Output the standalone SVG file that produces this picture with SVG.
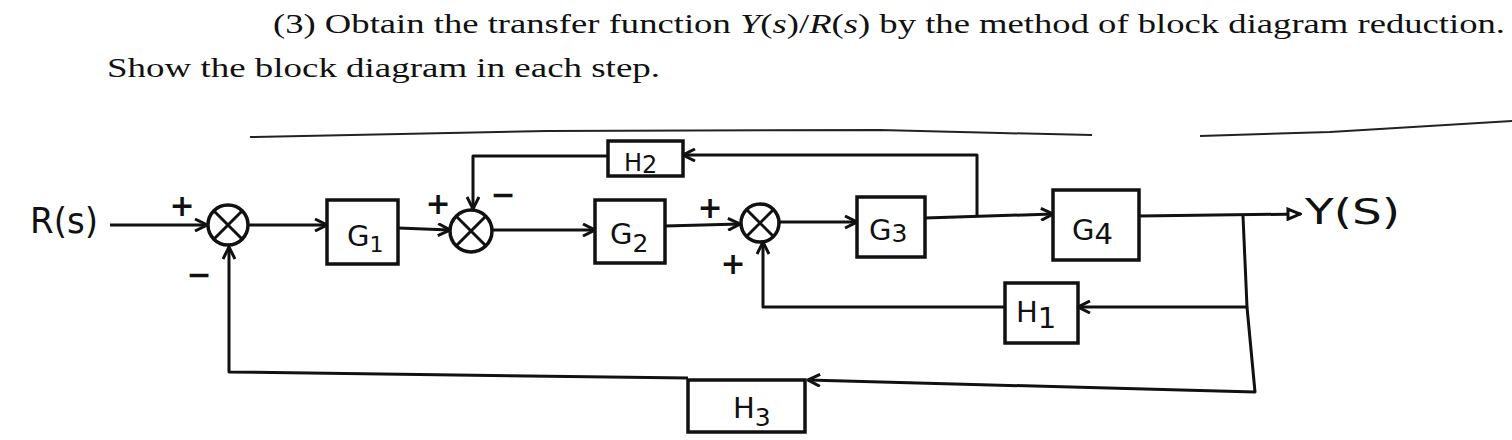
<svg xmlns="http://www.w3.org/2000/svg" width="1512" height="440" viewBox="0 0 1512 440">
<style>
.ttl{font-family:"Liberation Serif",serif;font-size:27px;fill:#111}
.hw{font-family:"DejaVu Sans","Liberation Sans",sans-serif;fill:#111}
.lbl{font-size:29px}
.sig{font-size:36px}
.pm{font-family:"DejaVu Sans",sans-serif;font-size:30px;font-weight:bold;fill:#111}
.blk{fill:#fff;stroke:#111;stroke-width:3.5}
.sum{fill:#fff;stroke:#111;stroke-width:3.5}
.x{stroke:#111;stroke-width:3}
.ln{fill:none;stroke:#111;stroke-width:3;stroke-linejoin:round}
.rule{fill:none;stroke:#222;stroke-width:2}
</style>
<defs>
<marker id="arr" viewBox="0 0 14 14" refX="13" refY="7" markerWidth="14" markerHeight="14" markerUnits="userSpaceOnUse" orient="auto">
<path d="M1,1 L13,7 L1,13" fill="none" stroke="#111" stroke-width="3"/>
</marker>
<marker id="tri" viewBox="0 0 16 14" refX="15" refY="7" markerWidth="16" markerHeight="14" markerUnits="userSpaceOnUse" orient="auto">
<path d="M2,2 L14,7 L2,12 Z" fill="#fff" stroke="#111" stroke-width="3"/>
</marker>
</defs>

<g id="title">
<text class="ttl" x="273" y="33" textLength="1232" lengthAdjust="spacingAndGlyphs">(3) Obtain the transfer function <tspan font-style="italic">Y</tspan>(<tspan font-style="italic">s</tspan>)/<tspan font-style="italic">R</tspan>(<tspan font-style="italic">s</tspan>) by the method of block diagram reduction.</text>
<text class="ttl" x="107" y="77" textLength="553" lengthAdjust="spacingAndGlyphs">Show the block diagram in each step.</text>
</g>

<g id="rules">
<polyline class="rule" points="250,137 547,131 880,130 1000,133 1092,135"/>
<polyline class="rule" points="1200,136 1330,132 1512,121"/>
</g>

<g id="connectors">
<line class="ln" x1="110" y1="225" x2="207" y2="225" marker-end="url(#arr)"/>
<line class="ln" x1="249" y1="225" x2="327" y2="225" marker-end="url(#arr)"/>
<line class="ln" x1="398" y1="228" x2="450" y2="230" marker-end="url(#arr)"/>
<line class="ln" x1="492" y1="230" x2="595" y2="230" marker-end="url(#arr)"/>
<line class="ln" x1="665" y1="226" x2="740" y2="224" marker-end="url(#arr)"/>
<line class="ln" x1="778" y1="222" x2="857" y2="222" marker-end="url(#arr)"/>
<line class="ln" x1="925" y1="218" x2="1053" y2="214" marker-end="url(#arr)"/>
<line class="ln" x1="1139" y1="216" x2="1301" y2="214" marker-end="url(#tri)"/>
<polyline class="ln" points="977,217 977,155 683,155" marker-end="url(#arr)"/>
<polyline class="ln" points="608,156 473,156 473,209" marker-end="url(#arr)"/>
<polyline class="ln" points="1243,216 1247,307 1078,307" marker-end="url(#arr)"/>
<polyline class="ln" points="1005,307 763,307 763,242" marker-end="url(#arr)"/>
<polyline class="ln" points="1247,307 1255,392 808,380" marker-end="url(#arr)"/>
<polyline class="ln" points="688,378 229,372 229,247" marker-end="url(#arr)"/>
</g>

<g id="R">
<text class="hw sig" x="30" y="233" textLength="68" lengthAdjust="spacingAndGlyphs">R(s)</text>
</g>
<g id="Y">
<text class="hw sig" x="1305" y="224" textLength="95" lengthAdjust="spacingAndGlyphs">Y(S)</text>
</g>

<g id="sum1">
<circle class="sum" cx="228" cy="225" r="20"/>
<line class="x" x1="214" y1="211" x2="242" y2="239"/>
<line class="x" x1="242" y1="211" x2="214" y2="239"/>
<text class="pm" x="182" y="216" text-anchor="middle">+</text>
<text class="pm" x="199" y="285" text-anchor="middle">−</text>
</g>

<g id="G1">
<rect class="blk" x="327" y="200" width="71" height="64"/>
<text class="hw lbl" x="347" y="246">G<tspan font-size="22" dy="6">1</tspan></text>
</g>

<g id="sum2">
<circle class="sum" cx="471" cy="231" r="21"/>
<line class="x" x1="456" y1="216" x2="486" y2="246"/>
<line class="x" x1="486" y1="216" x2="456" y2="246"/>
<text class="pm" x="438" y="214" text-anchor="middle">+</text>
<text class="pm" x="503" y="205" text-anchor="middle">−</text>
</g>

<g id="H2">
<rect class="blk" x="608" y="141" width="75" height="35"/>
<text class="hw" x="624" y="171" font-size="24">H<tspan dy="2">2</tspan></text>
</g>

<g id="G2">
<rect class="blk" x="595" y="200" width="70" height="63"/>
<text class="hw lbl" x="610" y="244">G<tspan font-size="25" dy="8">2</tspan></text>
</g>

<g id="sum3">
<circle class="sum" cx="760" cy="223" r="19"/>
<line class="x" x1="746" y1="209" x2="774" y2="237"/>
<line class="x" x1="774" y1="209" x2="746" y2="237"/>
<text class="pm" x="710" y="218" text-anchor="middle">+</text>
<text class="pm" x="733" y="274" text-anchor="middle">+</text>
</g>

<g id="G3">
<rect class="blk" x="857" y="197" width="68" height="60"/>
<text class="hw lbl" x="869" y="240">G<tspan font-size="25" dy="2">3</tspan></text>
</g>

<g id="G4">
<rect class="blk" x="1053" y="190" width="86" height="70"/>
<text class="hw lbl" x="1072" y="240">G<tspan dy="4">4</tspan></text>
</g>

<g id="H1">
<rect class="blk" x="1005" y="283" width="73" height="60"/>
<text class="hw lbl" x="1016" y="322">H<tspan dy="6">1</tspan></text>
</g>

<g id="H3">
<rect class="blk" x="688" y="380" width="117" height="52"/>
<text class="hw lbl" x="733" y="418">H<tspan font-size="25" dy="8">3</tspan></text>
</g>
</svg>
